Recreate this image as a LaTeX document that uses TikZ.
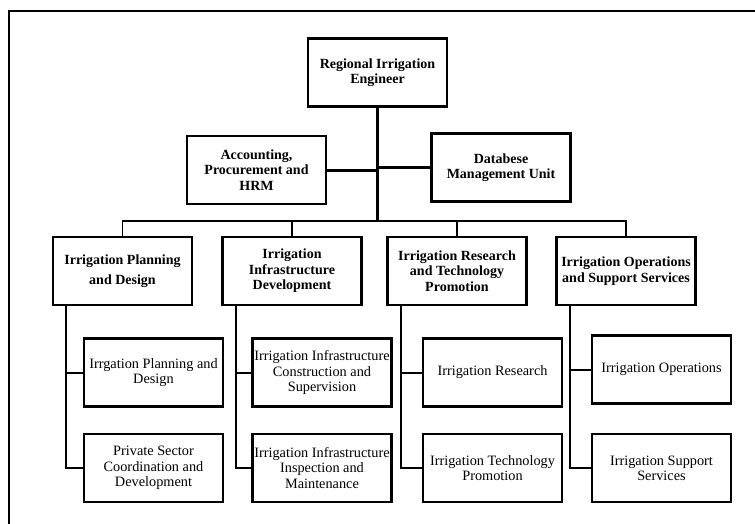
\documentclass[tikz,border=0pt]{standalone}
\usepackage{fontspec}
\setmainfont{Liberation Serif}

\begin{document}
\begin{tikzpicture}[x=1pt,y=-1pt,
  headbox/.style={draw,line width=2.7pt,minimum width=139pt,minimum height=68pt,inner sep=1pt,align=center,font=\fontsize{14}{15.5}\selectfont\bfseries},
  subbox/.style={headbox,font=\fontsize{14.3}{15.3}\selectfont},
  trunk/.style={line width=3pt},
  bus/.style={line width=1.8pt},
  link/.style={line width=2pt}]
  \useasboundingbox (0,0) rectangle (755,524);
  \path[draw,line width=2.4pt] (9,524) -- (9,11) -- (755,11);

  \node[headbox] (rie) at (377.5,72.5) {Regional Irrigation\\Engineer};
  \node[headbox] (acct) at (256.5,170) {Accounting,\\Procurement and\\HRM};
  \node[headbox] (dbu) at (501,167.5) {Databese\\Management Unit};
  \coordinate (hub) at (377.5,221);

  \node[headbox] (ipd) at (122.5,271) {Irrigation Planning\\[4.5pt]and Design};
  \node[headbox] (iid) at (292,271) {Irrigation\\Infrastructure\\Development};
  \node[headbox] (irt) at (457,271) {Irrigation Research\\and Technology\\Promotion};
  \node[headbox] (ios) at (626,271) {Irrigation Operations\\and Support Services};

  \node[subbox] (ipd1) at (153.5,372.5) {Irrgation Planning and\\Design};
  \node[subbox] (ipd2) at (153.5,468) {Private Sector\\Coordination and\\Development};
  \node[subbox] (iid1) at (322,372.5) {Irrigation Infrastructure\\Construction and\\Supervision};
  \node[subbox] (iid2) at (322,468) {Irrigation Infrastructure\\Inspection and\\Maintenance};
  \node[subbox] (irt1) at (492.5,372.5) {Irrigation Research};
  \node[subbox] (irt2) at (492.5,468) {Irrigation Technology\\Promotion};
  \node[subbox] (ios1) at (661.5,369.5) {Irrigation Operations};
  \node[subbox] (ios2) at (661.5,468) {Irrigation Support\\Services};

  \draw[trunk] (rie.south) -- (hub);
  \draw[trunk] (acct.east) -- (acct.east -| hub);
  \draw[trunk] (dbu.west) -- (dbu.west -| hub);
  \draw[bus] (ipd.north) |- (hub) -| (ios.north);
  \draw[bus] (iid.north) -- (iid.north |- hub);
  \draw[bus] (irt.north) -- (irt.north |- hub);

  \draw[link] ([xshift=14.5pt]ipd.south west) |- (ipd2.west);
  \draw[link] (ipd1.west) -| ([xshift=14.5pt]ipd.south west);
  \draw[link] ([xshift=14.5pt]iid.south west) |- (iid2.west);
  \draw[link] (iid1.west) -| ([xshift=14.5pt]iid.south west);
  \draw[link] ([xshift=14.5pt]irt.south west) |- (irt2.west);
  \draw[link] (irt1.west) -| ([xshift=14.5pt]irt.south west);
  \draw[link] ([xshift=14.5pt]ios.south west) |- (ios2.west);
  \draw[link] (ios1.west) -| ([xshift=14.5pt]ios.south west);
\end{tikzpicture}
\end{document}
